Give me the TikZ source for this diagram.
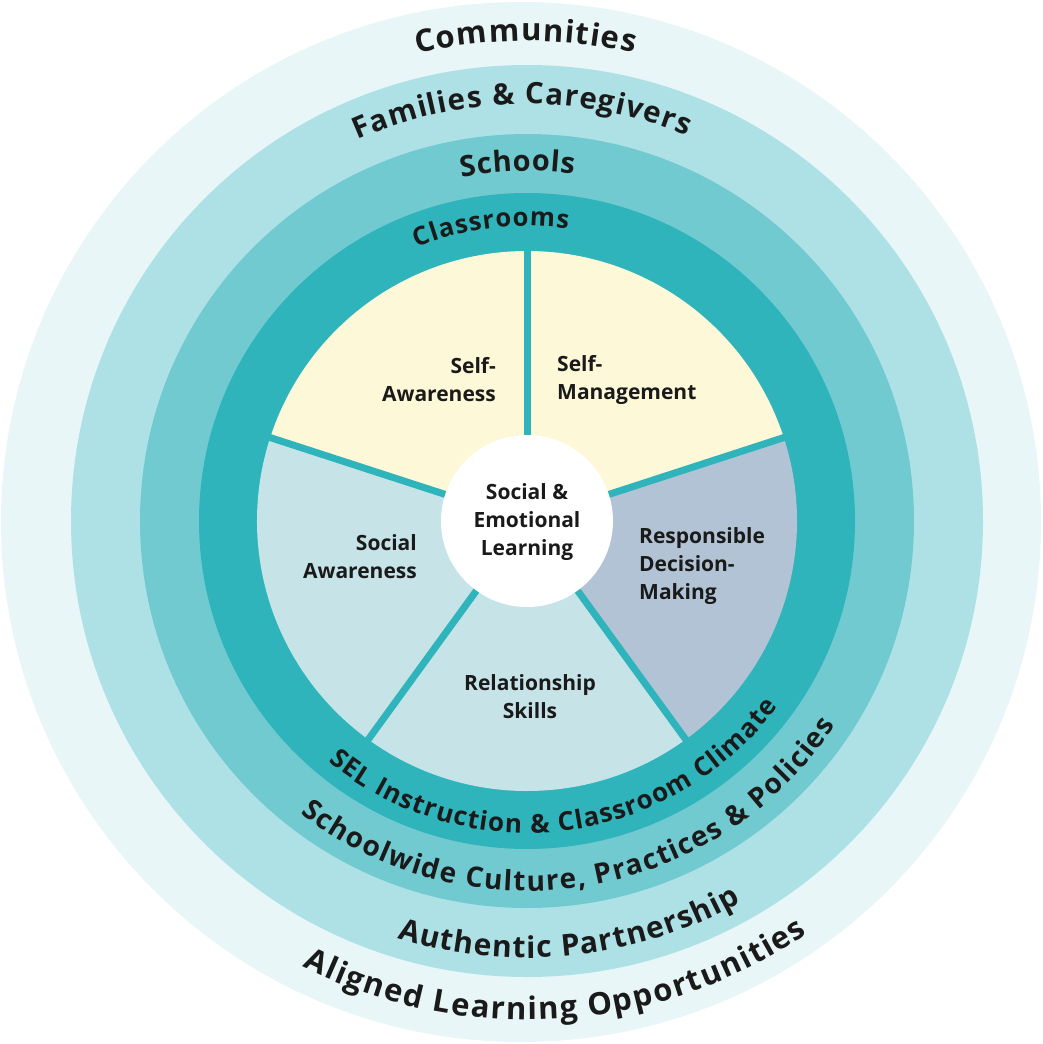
\documentclass[tikz,border=0pt]{standalone}
\usepackage{fontspec}
\setmainfont{Open Sans}
\usetikzlibrary{decorations.text}
\definecolor{commC}{HTML}{E8F6F7}
\definecolor{famC}{HTML}{AEE1E6}
\definecolor{schC}{HTML}{72CAD1}
\definecolor{clsC}{HTML}{2FB4BC}
\definecolor{selfC}{HTML}{FCF8D8}
\definecolor{socC}{HTML}{C6E4E8}
\definecolor{respC}{HTML}{B1C3D4}
\definecolor{inkC}{HTML}{1A1A1A}
\newcommand\fCom{\bfseries\fontsize{31}{34}\selectfont}
\newcommand\fFam{\bfseries\fontsize{29.5}{32}\selectfont}
\newcommand\fSch{\bfseries\fontsize{29}{32}\selectfont}
\newcommand\fCls{\bfseries\fontsize{25.5}{28}\selectfont}
\newcommand\fSel{\bfseries\fontsize{26}{28}\selectfont}
\newcommand\fSw{\bfseries\fontsize{28}{30}\selectfont}
\newcommand\fAu{\bfseries\fontsize{30}{32}\selectfont}
\newcommand\fAl{\bfseries\fontsize{31}{34}\selectfont}
\tikzset{
  curvetext/.style={decorate, decoration={text along path, text align={fit to path}, text color=inkC, text={#1}}},
  wlab/.style={font=\bfseries\fontsize{21}{28}\selectfont, text=inkC, inner sep=0pt},
  divider/.style={draw=clsC, line width=7pt},
}
\begin{document}
\begin{tikzpicture}[x=1pt,y=1pt]
\useasboundingbox (0,0) rectangle (1043,-1044);
\fill[commC] (521,-522) circle[radius=520];
\coordinate (O) at (527,-521);
\begin{scope}[shift={(527,-521)}]
  \fill[famC] (0,0) circle[radius=456];
  \fill[schC] (0,0) circle[radius=387];
  \fill[clsC] (0,0) circle[radius=328];
  % wedges
  \fill[selfC] (0,0) -- (18:270) arc[start angle=18, end angle=90, radius=270] -- cycle;
  \fill[selfC] (0,0) -- (90:270) arc[start angle=90, end angle=162, radius=270] -- cycle;
  \fill[socC] (0,0) -- (162:270) arc[start angle=162, end angle=234, radius=270] -- cycle;
  \fill[socC] (0,0) -- (234:270) arc[start angle=234, end angle=306, radius=270] -- cycle;
  \fill[respC] (0,0) -- (306:270) arc[start angle=306, end angle=378, radius=270] -- cycle;
  \coordinate (d1) at (18:272);
  \coordinate (d2) at (90:272);
  \coordinate (d3) at (162:272);
  \coordinate (d4) at (234:272);
  \coordinate (d5) at (306:272);
  \draw[divider] (O) -- (d1);
  \draw[divider] (O) -- (d2);
  \draw[divider] (O) -- (d3);
  \draw[divider] (O) -- (d4);
  \draw[divider] (O) -- (d5);
  \fill[white] (0,0) circle[radius=86];
  % curved labels (top, clockwise)
  \path[curvetext={|\fCom|Communities}] (103.2:480) arc[start angle=103.2, end angle=77.1, radius=480];
  \path[curvetext={|\fFam|Families {\&} Caregivers}] (114:417) arc[start angle=114, end angle=67.5, radius=417];
  \path[curvetext={|\fSch|Schools}] (100.8:350) arc[start angle=100.8, end angle=82.3, radius=350];
  \path[curvetext={|\fCls|Classrooms}] (112:295) arc[start angle=112, end angle=82, radius=295];
  % curved labels (bottom, counterclockwise)
  \path[curvetext={|\fSel|SEL Instruction {\&} Classroom Climate}] (230.4:312) arc[start angle=230.4, end angle=323.6, radius=312];
  \path[curvetext={|\fSw|Schoolwide Culture, Practices {\&} Policies}] (232.2:370) arc[start angle=232.2, end angle=326.5, radius=370];
  \path[curvetext={|\fAu|Authentic Partnership}] (252.7:437) arc[start angle=252.7, end angle=299.3, radius=437];
  \path[curvetext={|\fAl|Aligned Learning Opportunities}] (243.3:499) arc[start angle=243.3, end angle=304.2, radius=499];
\end{scope}
\node[wlab, align=right, anchor=east] (sa) at (496,-380) {Self-\\Awareness};
\node[wlab, align=left, anchor=west] (sm) at (557,-380) {Self-\\Management};
\node[wlab, align=right, anchor=east] (soc) at (417,-557) {Social\\Awareness};
\node[wlab, align=left, anchor=west] (rdm) at (639,-566) {Responsible\\Decision-\\Making};
\node[wlab, align=center] (rel) at (530,-697) {Relationship\\Skills};
\node[wlab, align=center] (sel) at (527,-522) {Social \&\\Emotional\\Learning};
\end{tikzpicture}
\end{document}
